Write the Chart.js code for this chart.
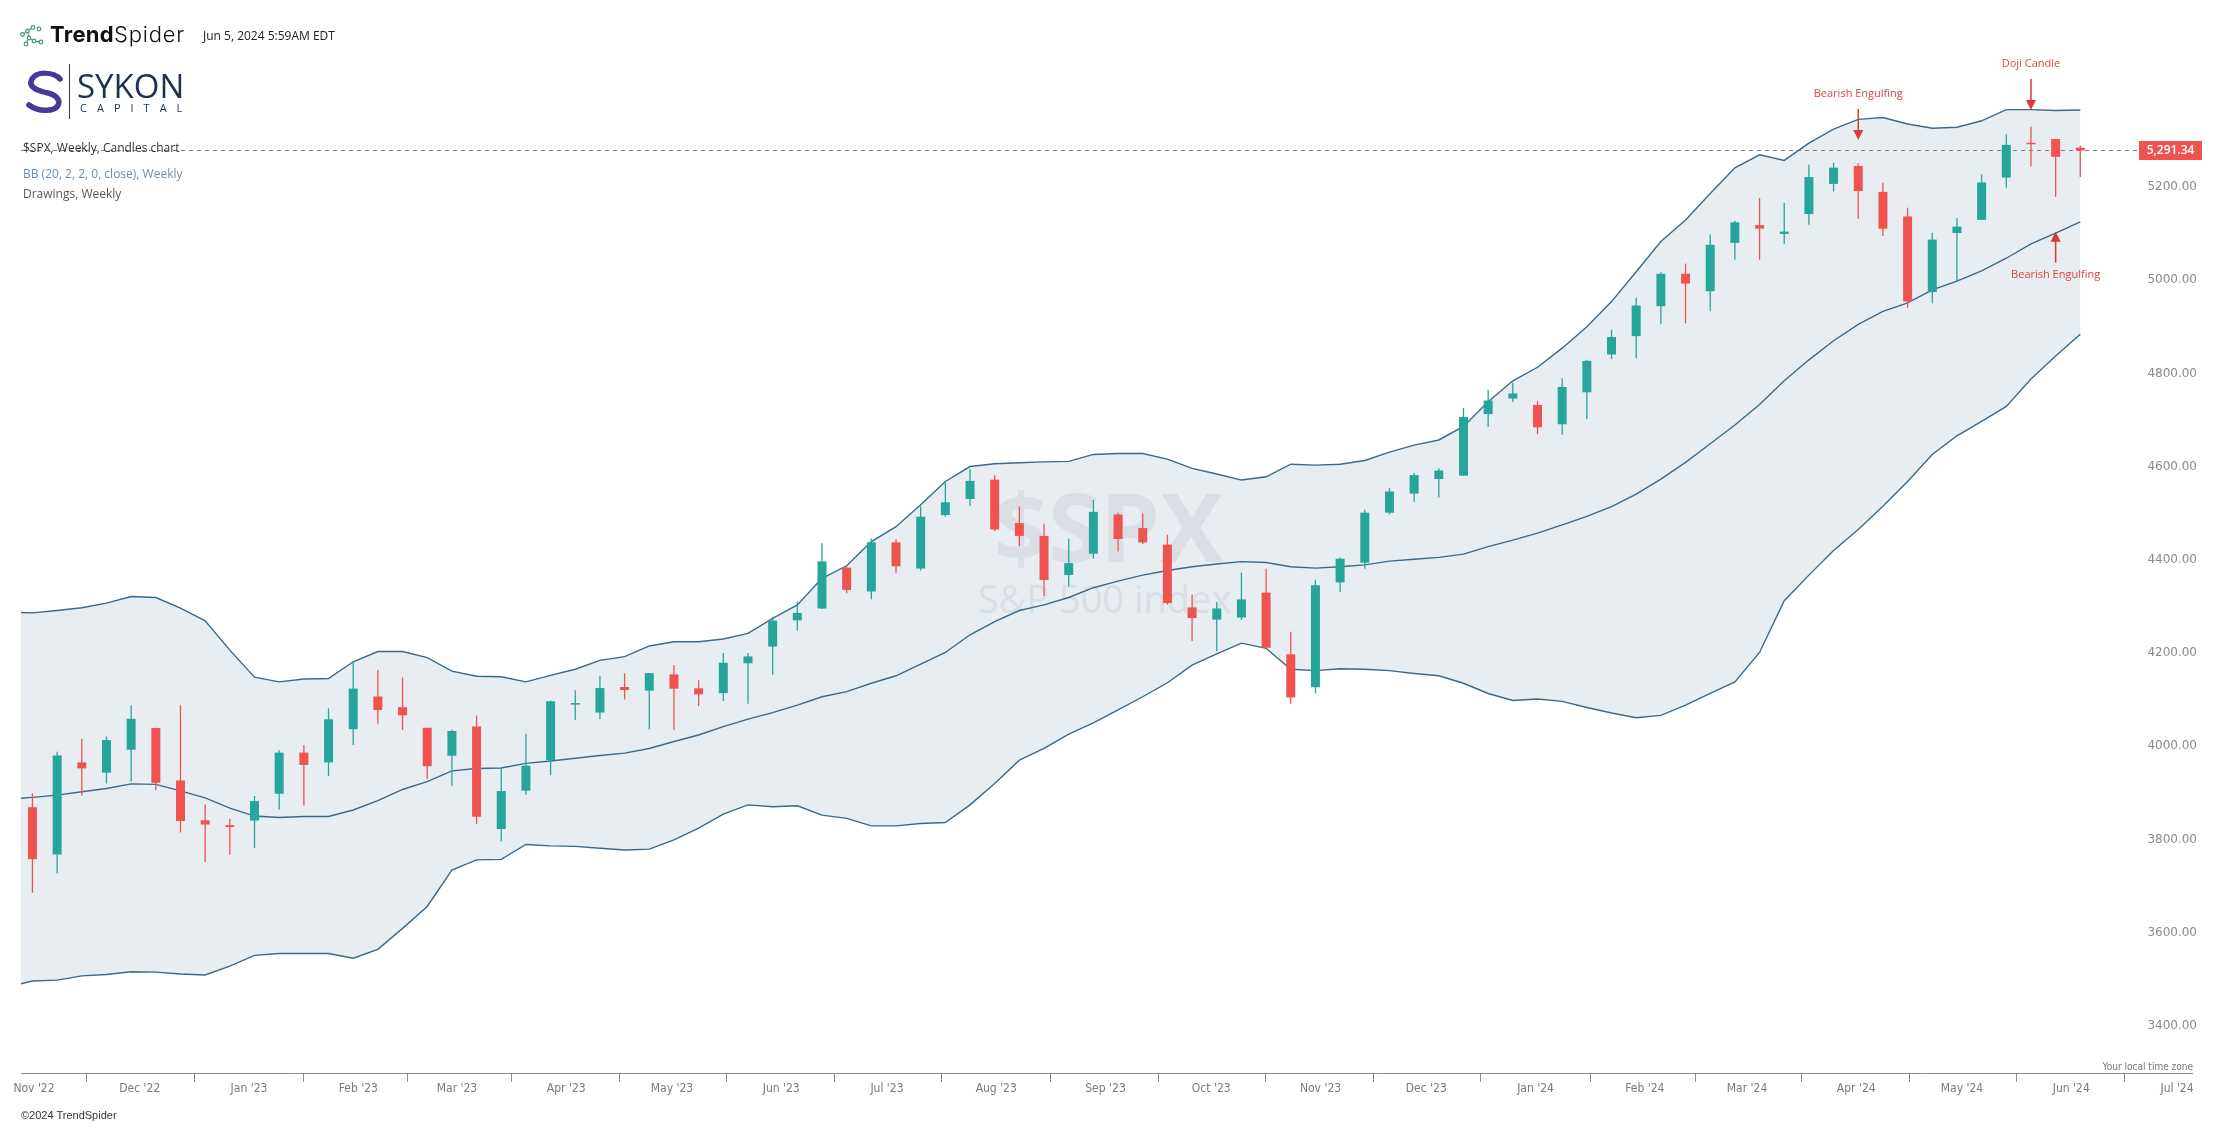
<!DOCTYPE html>
<html><head><meta charset="utf-8">
<script src="https://cdn.jsdelivr.net/npm/chart.js@4.4.1/dist/chart.umd.min.js"></script>
<style>
html,body{margin:0;padding:0;background:#fff;overflow:hidden}
#wrap{position:relative;width:2222px;height:1124px;background:#fff}
#c{position:absolute;left:0;top:0}
.lbl{position:absolute;white-space:nowrap;line-height:0;height:0;font-family:'Open Sans',sans-serif}
.nar{font-family:'Liberation Sans Narrow','DejaVu Sans Condensed','Roboto Condensed','Open Sans',sans-serif}
</style></head>
<body><div id="wrap">
<canvas id="c" width="2222" height="1124"></canvas>
<svg style="position:absolute;left:0;top:0" width="200" height="130">
 <g fill="none" stroke="#3d9e7c" stroke-width="1.2">
  <circle cx="22.5" cy="34.5" r="1.8"/><circle cx="27.5" cy="31" r="1.8"/><circle cx="33" cy="27.5" r="1.8"/>
  <circle cx="39" cy="29" r="1.8"/><circle cx="29" cy="38" r="1.8"/><circle cx="34" cy="41" r="1.8"/>
  <circle cx="41" cy="42" r="1.8"/><circle cx="26" cy="44" r="1.8"/>
  <path d="M24.2 33.6 L26 32 M29 30 L31.4 28.4 M29 36.3 L28 32.8 M30.6 39 L32.4 40 M35.8 41.3 L39.2 41.8 M27.6 39.6 L26.8 42.3"/>
 </g>
 <path d="M60 79 C54 72 37 71 32 79 C27 88 40 91 46 92.5 C55 94.5 61 99 58 105.5 C54 112 38 112 29 105" fill="none" stroke="#46399a" stroke-width="5.5" stroke-linecap="round"/>
 <path d="M56 80 C50 75 39 75 36 80 C33 86 42 88 47 89.5" fill="none" stroke="#fff" stroke-width="1.2"/>
 <line x1="69.5" y1="64" x2="69.5" y2="119" stroke="#2b3d5c" stroke-width="1"/>
</svg>
<div class="lbl" style="left:50px;top:34px;font-family:Inter,sans-serif;font-size:22px;color:#111"><span style="font-weight:700;letter-spacing:0.3px">Trend</span><span style="font-weight:300;letter-spacing:0.8px">Spider</span></div>
<div class="lbl" style="left:203px;top:36px;font-size:12px;color:#222">Jun 5, 2024 5:59AM EDT</div>
<div class="lbl" style="left:77px;top:86px;font-size:33px;color:#1d3252">SYKON</div>
<div class="lbl" style="left:80px;top:108px;font-size:11px;letter-spacing:10px;color:#1d3252">CAPITAL</div>
<div class="lbl" style="left:23px;top:148px;font-size:12px;color:#333">$SPX, Weekly, Candles chart</div>
<div class="lbl" style="left:23px;top:174px;font-size:12px;color:#6b8fb0">BB (20, 2, 2, 0, close), Weekly</div>
<div class="lbl" style="left:23px;top:194px;font-size:12px;color:#555">Drawings, Weekly</div>
<div class="lbl" style="left:21px;top:1115px;font-size:11px;color:#333;font-family:'Liberation Sans',Arial,sans-serif">©2024 TrendSpider</div>
<div class="lbl nar" style="right:29px;top:1067px;font-size:10px;color:#777">Your local time zone</div>
</div>
<script>
// ---------- DATA ----------
const weeks = ['2022-10-31','2022-11-07','2022-11-14','2022-11-21','2022-11-28','2022-12-05','2022-12-12','2022-12-19','2022-12-26','2023-01-02',
'2023-01-09','2023-01-16','2023-01-23','2023-01-30','2023-02-06','2023-02-13','2023-02-20','2023-02-27','2023-03-06','2023-03-13',
'2023-03-20','2023-03-27','2023-04-03','2023-04-10','2023-04-17','2023-04-24','2023-05-01','2023-05-08','2023-05-15','2023-05-22',
'2023-05-29','2023-06-05','2023-06-12','2023-06-19','2023-06-26','2023-07-03','2023-07-10','2023-07-17','2023-07-24','2023-07-31',
'2023-08-07','2023-08-14','2023-08-21','2023-08-28','2023-09-04','2023-09-11','2023-09-18','2023-09-25','2023-10-02','2023-10-09',
'2023-10-16','2023-10-23','2023-10-30','2023-11-06','2023-11-13','2023-11-20','2023-11-27','2023-12-04','2023-12-11','2023-12-18',
'2023-12-25','2024-01-01','2024-01-08','2024-01-15','2024-01-22','2024-01-29','2024-02-05','2024-02-12','2024-02-19','2024-02-26',
'2024-03-04','2024-03-11','2024-03-18','2024-03-25','2024-04-01','2024-04-08','2024-04-15','2024-04-22','2024-04-29','2024-05-06',
'2024-05-13','2024-05-20','2024-05-27','2024-06-03'];

const opens = [3881.9,3780.7,3978.0,3956.2,4005.4,4052.0,3939.3,3853.8,3843.3,3853.3,
3910.8,3999.3,3978.1,4049.3,4119.6,4096.6,4052.4,3992.4,4055.2,3835.1,
3917.5,3982.9,4102.2,4085.0,4140.0,4132.1,4166.8,4137.0,4126.7,4190.8,
4226.7,4283.0,4308.3,4396.1,4344.8,4450.5,4394.2,4508.9,4543.4,4584.8,
4491.6,4464.1,4380.3,4426.0,4510.1,4481.0,4445.4,4310.6,4284.5,4289.0,
4342.4,4210.0,4139.4,4364.3,4406.7,4514.0,4554.9,4586.2,4593.4,4725.6,
4758.9,4745.2,4703.7,4772.4,4853.4,4892.9,4957.2,5026.8,4989.3,5093.0,
5131.0,5112.0,5154.8,5219.5,5258.0,5202.4,5149.7,4987.3,5114.1,5142.4,
5233.1,5305.4,5315.9,5297.2];
const highs = [3911.8,4001.0,4028.8,4034.0,4100.5,4052.5,4101.0,3888.0,3857.0,3906.0,
4004.0,4015.4,4094.2,4195.4,4176.5,4160.0,4052.4,4048.3,4078.5,3965.0,
4039.5,4110.8,4133.1,4163.2,4169.5,4170.1,4186.9,4154.3,4212.9,4212.9,
4290.7,4322.6,4448.5,4400.2,4458.5,4456.5,4527.8,4578.4,4607.1,4594.2,
4527.4,4490.3,4458.3,4541.3,4514.3,4512.0,4466.4,4338.5,4323.0,4385.5,
4393.6,4258.7,4370.0,4418.0,4520.1,4567.0,4599.4,4609.2,4738.6,4778.0,
4793.3,4754.3,4802.4,4842.1,4906.7,4975.3,5030.1,5048.4,5111.1,5140.3,
5189.3,5179.1,5261.1,5264.9,5264.0,5222.2,5168.4,5114.6,5146.1,5239.7,
5325.5,5341.9,5315.9,5302.1];
const lows = [3698.2,3740.0,3906.5,3933.0,3937.2,3918.4,3827.7,3764.5,3780.0,3794.3,
3877.0,3885.5,3949.1,4015.6,4060.8,4048.0,3943.1,3928.2,3846.3,3808.9,
3908.8,3951.0,4069.0,4071.3,4113.0,4049.3,4048.3,4098.9,4109.7,4103.9,
4166.2,4261.1,4307.2,4341.0,4328.1,4385.0,4389.9,4505.5,4528.6,4474.6,
4442.5,4335.3,4356.3,4415.0,4430.5,4446.8,4316.5,4238.6,4216.5,4283.8,
4223.0,4103.8,4126.3,4343.8,4393.6,4510.4,4537.2,4546.5,4592.6,4697.9,
4751.6,4682.1,4681.2,4714.8,4844.1,4845.2,4918.1,4920.3,4946.0,5056.8,
5056.8,5091.0,5132.1,5203.4,5145.0,5107.9,4953.6,4963.5,5011.1,5142.4,
5211.2,5256.9,5191.7,5234.3];
const closes = [3770.6,3992.9,3965.3,4026.1,4071.7,3934.4,3852.4,3844.8,3839.5,3895.1,
3999.1,3972.6,4070.6,4136.5,4090.5,4079.1,3970.0,4045.6,3861.6,3916.6,
3971.0,4109.3,4105.0,4137.6,4133.5,4169.5,4136.3,4124.1,4192.0,4205.5,
4282.4,4298.9,4409.6,4348.3,4450.4,4399.0,4505.4,4536.3,4582.2,4478.0,
4464.1,4369.7,4405.7,4515.8,4457.5,4450.3,4320.1,4288.1,4308.5,4327.8,
4224.2,4117.4,4358.3,4415.2,4514.0,4559.3,4594.6,4604.4,4719.2,4754.6,
4769.8,4697.2,4783.8,4839.8,4891.0,4958.6,5026.6,5005.6,5088.8,5137.1,
5123.7,5117.1,5234.2,5254.4,5204.3,5123.4,4967.2,5100.0,5127.8,5222.7,
5303.3,5304.7,5277.5,5291.34];

// Bollinger band (20,2) as drawn, one extra leading week that starts off-screen
const bandWeeks = ['2022-10-24'].concat(weeks);
const bbUpper = [4301,4299,4304,4310,4320,4334,4332,4309,4282,4219,4161,4151,4157,4158,4194,4216,4216,4203,4174,4163,4162,
4151,4165,4178,4197,4205,4228,4237,4237,4243,4255,4287,4316,4373,4400,4452,4484,4531,4581,4613,4619,
4621,4623,4624,4639,4641,4641,4629,4609,4597,4584,4591,4618,4616,4618,4626,4644,4659,4670,4699,4752,
4797,4826,4867,4913,4967,5031,5096,5142,5199,5254,5282,5270,5307,5337,5358,5362,5348,5339,5341,5355,
5379,5379,5377,5378];
const bbMiddle = [3899,3903,3908,3915,3922,3932,3931,3917,3902,3880,3863,3860,3862,3862,3876,3896,3920,3937,3960,3965,3966,
3976,3981,3987,3993,3998,4008,4023,4037,4055,4071,4085,4101,4119,4130,4148,4164,4189,4214,4252,4280,
4304,4316,4332,4353,4367,4380,4390,4398,4404,4409,4407,4398,4395,4398,4402,4410,4414,4418,4425,4441,
4455,4470,4488,4506,4527,4554,4586,4622,4662,4702,4746,4797,4842,4883,4918,4946,4964,4992,5011,5033,
5060,5091,5114,5138];
const bbLower = [3496,3509,3511,3520,3523,3529,3528,3524,3522,3541,3564,3568,3568,3568,3558,3577,3622,3669,3747,3769,3770,
3802,3799,3798,3794,3790,3792,3812,3837,3867,3887,3883,3885,3865,3858,3842,3842,3847,3849,3887,3933,
3983,4008,4039,4063,4091,4119,4149,4187,4211,4234,4223,4178,4175,4179,4178,4175,4169,4164,4148,4126,
4111,4114,4109,4096,4084,4074,4079,4101,4126,4151,4214,4325,4380,4433,4478,4528,4581,4639,4679,4710,
4742,4801,4850,4897];

const monthTickDates = ['2022-11-01','2022-12-01','2023-01-01','2023-02-01','2023-03-01','2023-04-01','2023-05-01','2023-06-01',
'2023-07-01','2023-08-01','2023-09-01','2023-10-01','2023-11-01','2023-12-01','2024-01-01','2024-02-01','2024-03-01',
'2024-04-01','2024-05-01','2024-06-01','2024-07-01'];
const monthTickLabels = ["Nov '22","Dec '22","Jan '23","Feb '23","Mar '23","Apr '23","May '23","Jun '23",
"Jul '23","Aug '23","Sep '23","Oct '23","Nov '23","Dec '23","Jan '24","Feb '24","Mar '24",
"Apr '24","May '24","Jun '24","Jul '24"];
const yTickValues = [3400,3600,3800,4000,4200,4400,4600,4800,5000,5200];

const annoWeeks = ['2024-04-01','2024-05-20','2024-05-27'];
const annoValues = [5313.7,5378,5117];
const annoTexts = ['Bearish Engulfing','Doji Candle','Bearish Engulfing'];
const annoDirs = ['down','down','up'];

const wmTitle = '$SPX';
const wmSub = 'S&P 500 index';

// ---------- helpers ----------
const DAY0 = Date.UTC(2022,10,1);
function dayOf(s){ const p = s.split('-').map(Number); return (Date.UTC(p[0],p[1]-1,p[2]) - DAY0)/86400000; }
const SESSION_OPEN = 13.5/24;           // weekly bar stamped at Monday 09:30 ET
const candleX = weeks.map(w => dayOf(w) + SESSION_OPEN);
const bandX = bandWeeks.map(w => dayOf(w) + SESSION_OPEN);
const monthTickDays = monthTickDates.map(dayOf);

const UP = '#26a69a', DN = '#ef5350';
const colors = opens.map((o,i) => closes[i] >= o ? UP : DN);
const BAND_LINE = '#3b6a89', BAND_FILL = '#e8edf1';

const X_MIN = -3.688, X_MAX = 612.25;
const Y_MIN = 3311.59, Y_MAX = 5614.16;
const X_FONT = "'Liberation Sans Narrow','DejaVu Sans Condensed','Roboto Condensed','Open Sans',sans-serif";

Chart.defaults.font.family = "'Open Sans', sans-serif";

const decor = {
  id: 'decor',
  beforeDatasetsDraw(chart) {
    const {ctx, chartArea: a, scales: {y}} = chart;
    ctx.save();
    ctx.beginPath(); ctx.rect(a.left, a.top, a.right - a.left, a.bottom - a.top); ctx.clip();
    const cx = (a.left + a.right) / 2, cy = (a.top + a.bottom) / 2;
    ctx.fillStyle = 'rgba(100,112,128,0.11)';
    ctx.textAlign = 'center'; ctx.textBaseline = 'alphabetic';
    ctx.font = "bold 95px 'Open Sans'"; ctx.fillText(wmTitle, cx + 2, cy + 25);
    ctx.font = "38px 'Open Sans'"; ctx.fillText(wmSub, cx - 2, cy + 76);
    const py = Math.round(y.getPixelForValue(closes[closes.length-1])) + 0.5;
    ctx.strokeStyle = '#808080'; ctx.lineWidth = 1; ctx.setLineDash([4,4]);
    ctx.beginPath(); ctx.moveTo(a.left, py); ctx.lineTo(2139, py); ctx.stroke();
    ctx.restore();
  },
  afterDatasetsDraw(chart) {
    const {ctx, scales: {x, y}} = chart;
    ctx.save();
    annoWeeks.forEach((w, i) => {
      const px = x.getPixelForValue(dayOf(w) + SESSION_OPEN);
      const py = y.getPixelForValue(annoValues[i]);
      const s = annoDirs[i] === 'down' ? -1 : 1;
      ctx.strokeStyle = '#d63a3a'; ctx.fillStyle = '#d63a3a'; ctx.lineWidth = 1.5;
      ctx.beginPath(); ctx.moveTo(px, py + s*31); ctx.lineTo(px, py + s*9); ctx.stroke();
      ctx.beginPath(); ctx.moveTo(px - 5, py + s*10); ctx.lineTo(px + 5, py + s*10); ctx.lineTo(px, py); ctx.closePath(); ctx.fill();
      ctx.font = "11px 'Open Sans'"; ctx.fillStyle = '#e04444';
      ctx.textAlign = 'center'; ctx.textBaseline = 'middle';
      ctx.fillText(annoTexts[i], px, py + (s < 0 ? -46 : 43));
    });
    // last price tag
    const last = closes[closes.length-1];
    const py = y.getPixelForValue(last);
    ctx.fillStyle = '#ef5350';
    ctx.fillRect(2139, Math.round(py) - 9, 63, 19);
    ctx.fillStyle = '#fff'; ctx.font = "600 12px 'Open Sans'";
    ctx.textAlign = 'center'; ctx.textBaseline = 'middle';
    ctx.fillText(last.toLocaleString('en-US', {minimumFractionDigits: 2, maximumFractionDigits: 2}), 2170.5, Math.round(py) + 0.5);
    ctx.restore();
  },
  afterDraw(chart) {
    const {ctx, scales: {y}} = chart;
    ctx.save();
    ctx.fillStyle = '#8a8a8a'; ctx.font = "12px 'DejaVu Sans'";
    ctx.textAlign = 'right'; ctx.textBaseline = 'middle';
    y.ticks.forEach(t => ctx.fillText(t.value.toFixed(2), 2197, y.getPixelForValue(t.value) - 6));
    ctx.restore();
  }
};

new Chart(document.getElementById('c'), {
  type: 'line',
  data: {
    datasets: [
      { type: 'bar', label: 'body', order: 0,
        data: weeks.map((w,i) => ({x: candleX[i], y: [opens[i], closes[i]]})),
        backgroundColor: colors, borderWidth: 0, inflateAmount: 0,
        barThickness: 9, barPercentage: 0.365, categoryPercentage: 1, grouped: false, minBarLength: 1.5 },
      { type: 'bar', label: 'wick', order: 1,
        data: weeks.map((w,i) => ({x: candleX[i], y: [lows[i], highs[i]]})),
        backgroundColor: colors, borderWidth: 0, inflateAmount: 0,
        barThickness: 1.3, barPercentage: 0.053, categoryPercentage: 1, grouped: false },
      { type: 'line', label: 'BB upper', order: 2,
        data: bandX.map((x,i) => ({x, y: bbUpper[i]})),
        borderColor: BAND_LINE, borderWidth: 1.4, pointRadius: 0, tension: 0, fill: false },
      { type: 'line', label: 'BB middle', order: 2,
        data: bandX.map((x,i) => ({x, y: bbMiddle[i]})),
        borderColor: BAND_LINE, borderWidth: 1.4, pointRadius: 0, tension: 0, fill: false },
      { type: 'line', label: 'BB lower', order: 2,
        data: bandX.map((x,i) => ({x, y: bbLower[i]})),
        borderColor: BAND_LINE, borderWidth: 1.4, pointRadius: 0, tension: 0,
        fill: '-2', backgroundColor: BAND_FILL }
    ]
  },
  options: {
    responsive: false, animation: false, devicePixelRatio: 1, events: [],
    layout: { padding: { left: 21, right: 30, top: 0, bottom: 0 } },
    plugins: {
      legend: { display: false }, tooltip: { enabled: false },
      filler: { drawTime: 'beforeDatasetsDraw', propagate: false }
    },
    scales: {
      x: {
        type: 'linear', min: X_MIN, max: X_MAX, offset: false, bounds: 'data',
        afterBuildTicks: s => { s.ticks = monthTickDays.map(v => ({value: v})); },
        afterFit: s => { s.height = 51; },
        ticks: { autoSkip: false, maxRotation: 0, minRotation: 0, padding: 0, color: '#7a7a7a',
          font: { family: X_FONT, size: 12 }, callback: (v, i) => monthTickLabels[i] },
        grid: { display: true, drawOnChartArea: false, drawTicks: true, tickLength: 9,
          color: '#8a8a8a', tickColor: '#8a8a8a', lineWidth: 1 },
        border: { display: true, color: '#8a8a8a', width: 1 }
      },
      y: {
        type: 'linear', position: 'right', min: Y_MIN, max: Y_MAX, bounds: 'data',
        afterBuildTicks: s => { s.ticks = yTickValues.map(v => ({value: v})); },
        afterFit: s => { s.width = 0; },
        ticks: { display: false }, grid: { display: false }, border: { display: false }
      }
    }
  },
  plugins: [decor]
});
</script>
</body></html>
